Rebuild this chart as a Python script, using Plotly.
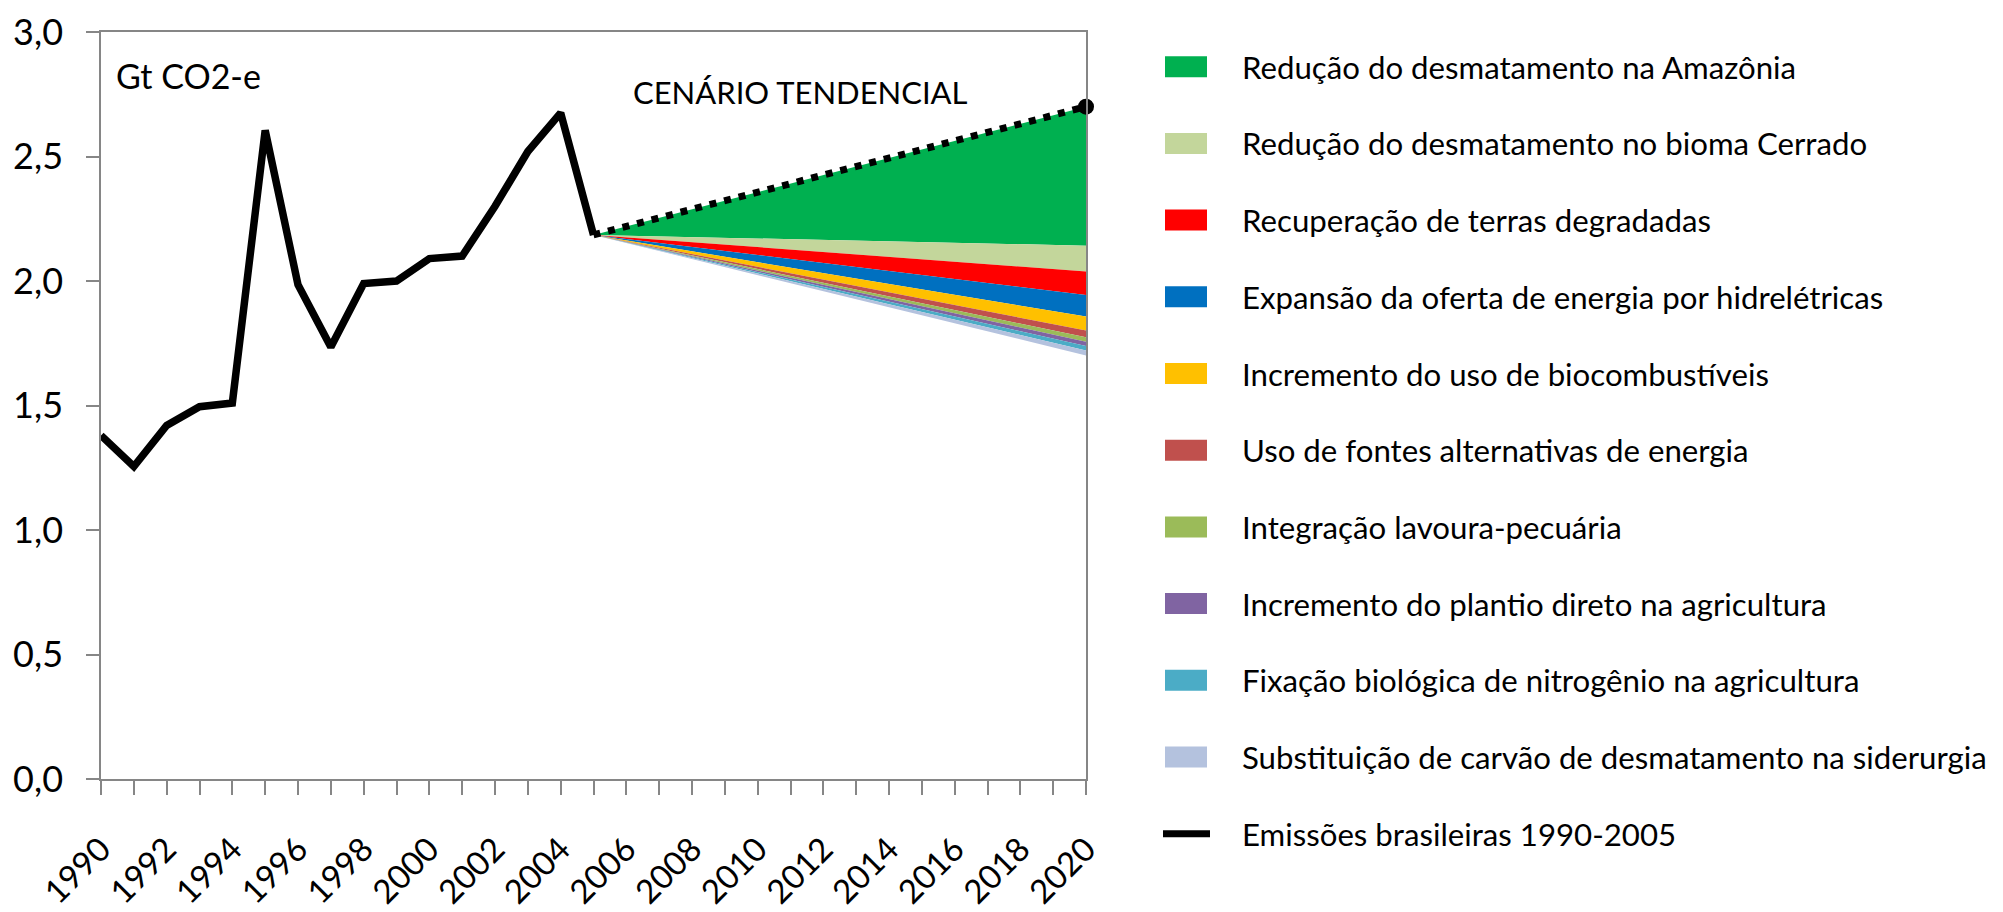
import plotly.graph_objects as go

# ---------------- data ----------------
hist_years = list(range(1990, 2006))
hist_emissions = [1.38, 1.255, 1.42, 1.495, 1.51, 2.605, 1.985, 1.735, 1.99, 2.00,
                  2.09, 2.10, 2.30, 2.52, 2.675, 2.185]

scen_years = [2005, 2020]
trend_values = [2.185, 2.70]          # cenário tendencial (Gt CO2-e)

wedge_names = [
    "Redução do desmatamento na Amazônia",
    "Redução do desmatamento no bioma Cerrado",
    "Recuperação de terras degradadas",
    "Expansão da oferta de energia por hidrelétricas",
    "Incremento do uso de biocombustíveis",
    "Uso de fontes alternativas de energia",
    "Integração lavoura-pecuária",
    "Incremento do plantio direto na agricultura",
    "Fixação biológica de nitrogênio na agricultura",
    "Substituição de carvão de desmatamento na siderurgia",
]
wedge_reduction_2020 = [0.558, 0.104, 0.094, 0.087, 0.056, 0.027, 0.018, 0.017, 0.018, 0.020]
wedge_colors = ["#00B050", "#C3D69B", "#FF0000", "#0070C0", "#FFC000",
                "#C0504D", "#9BBB59", "#8064A2", "#4BACC6", "#B4C2DE"]
line_name = "Emissões brasileiras 1990-2005"

x_tick_years = list(range(1990, 2021))
y_ticks = [0, 0.5, 1.0, 1.5, 2.0, 2.5, 3.0]

# ---------------- figure ----------------
FONT = "Lato, 'Open Sans', sans-serif"
W, H = 2003, 912
ML, MR, MT, MB = 101, 917, 32, 133
PW, PH = W - ML - MR, H - MT - MB
AX = "#868686"

fig = go.Figure()

# base (trend) for the first fill
fig.add_trace(go.Scatter(x=scen_years, y=trend_values, mode="lines",
                         line=dict(width=0, color="rgba(0,0,0,0)"),
                         showlegend=False, hoverinfo="skip"))
cum = 0.0
for name, red, col in zip(wedge_names, wedge_reduction_2020, wedge_colors):
    cum += red
    bottom = [trend_values[0], trend_values[1] - cum]
    fig.add_trace(go.Scatter(x=scen_years, y=bottom, mode="lines", name=name,
                             line=dict(width=0, color=col), fill="tonexty",
                             fillcolor=col, showlegend=False))

fig.add_trace(go.Scatter(x=hist_years, y=hist_emissions, mode="lines", name=line_name,
                         line=dict(color="black", width=7.5), showlegend=False))

fig.add_trace(go.Scatter(x=scen_years, y=trend_values, mode="lines",
                         line=dict(color="black", width=7, dash="7px,8px"),
                         showlegend=False, hoverinfo="skip"))
fig.add_trace(go.Scatter(x=scen_years[-1:], y=trend_values[-1:], mode="markers",
                         marker=dict(size=16, color="black", line=dict(width=0)),
                         cliponaxis=False, showlegend=False, hoverinfo="skip"))

# ---------------- manual legend ----------------
def px_to_paper_x(px):
    return (px - ML) / PW

def px_to_paper_y(py):
    return (H - MB - py) / PH

shapes = []
annotations = []
legend_labels = wedge_names + [line_name]
for i, lab in enumerate(legend_labels):
    cy = 66.7 + 76.7 * i
    if i < len(wedge_names):
        shapes.append(dict(type="rect", xref="paper", yref="paper",
                           x0=px_to_paper_x(1165), x1=px_to_paper_x(1207),
                           y0=px_to_paper_y(cy - 10.5), y1=px_to_paper_y(cy + 10.5),
                           fillcolor=wedge_colors[i], line=dict(width=0)))
    else:
        shapes.append(dict(type="line", xref="paper", yref="paper",
                           x0=px_to_paper_x(1163), x1=px_to_paper_x(1210),
                           y0=px_to_paper_y(cy), y1=px_to_paper_y(cy),
                           line=dict(color="black", width=7)))
    annotations.append(dict(text=lab, xref="paper", yref="paper",
                            x=px_to_paper_x(1240), y=px_to_paper_y(cy),
                            xanchor="left", yanchor="middle", showarrow=False,
                            font=dict(family=FONT, size=31.2, color="black")))

annotations.append(dict(text="Gt CO2-e", xref="paper", yref="paper",
                        x=px_to_paper_x(114), y=px_to_paper_y(76),
                        xanchor="left", yanchor="middle", showarrow=False,
                        font=dict(family=FONT, size=34, color="black")))
annotations.append(dict(text="CENÁRIO TENDENCIAL", xref="paper", yref="paper",
                        x=px_to_paper_x(970), y=px_to_paper_y(92),
                        xanchor="right", yanchor="middle", showarrow=False,
                        font=dict(family=FONT, size=31, color="black")))

fig.update_layout(
    width=W, height=H,
    margin=dict(l=ML, r=MR, t=MT, b=MB),
    paper_bgcolor="white", plot_bgcolor="white",
    separators=",.",
    shapes=shapes, annotations=annotations,
    showlegend=False,
    font=dict(family=FONT, color="black"),
)
fig.update_xaxes(range=[1990, 2020], tickmode="array", tickvals=x_tick_years,
                 ticktext=[str(y) if y % 2 == 0 else "" for y in x_tick_years],
                 tickangle=-45, ticks="outside", ticklen=14, tickcolor=AX, tickwidth=1.5,
                 showline=True, linecolor=AX, linewidth=1.5, mirror=True,
                 showgrid=False, zeroline=False, ticklabelstandoff=22, automargin=False,
                 tickfont=dict(family=FONT, size=33, color="black"))
fig.update_yaxes(range=[0, 3], tickmode="array", tickvals=y_ticks, tickformat=".1f",
                 ticks="outside", ticklen=13, tickcolor=AX, tickwidth=1.5,
                 showline=True, linecolor=AX, linewidth=1.5, mirror=True,
                 showgrid=False, zeroline=False, ticklabelstandoff=16, automargin=False,
                 tickfont=dict(family=FONT, size=36, color="black"))

fig.write_html("out.html", config={"displayModeBar": False},
               post_script="document.body.style.margin='0px';document.body.style.overflow='hidden';")
